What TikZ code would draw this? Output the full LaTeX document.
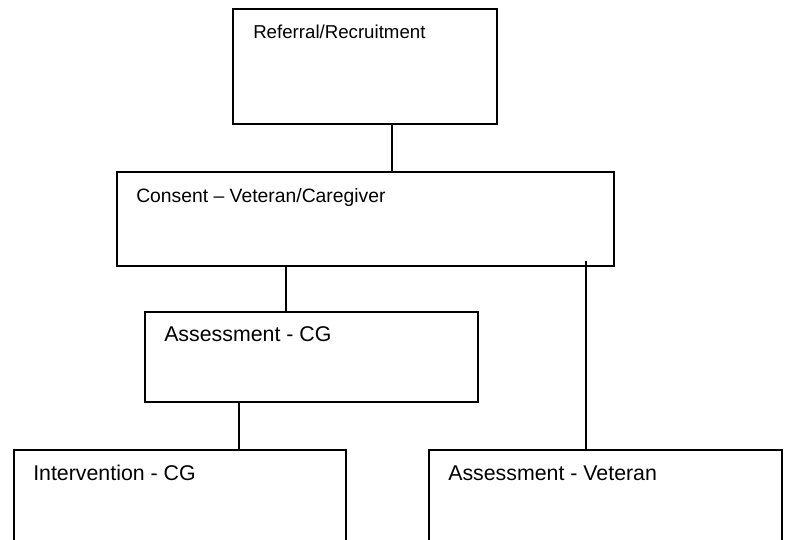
\documentclass[tikz,border=0pt]{standalone}
\usepackage{fontspec}
\setmainfont{Liberation Sans}
\begin{document}
\begin{tikzpicture}[x=0.75pt,y=-0.75pt,
  box/.style={draw,line width=1.4pt,rectangle,anchor=north west,inner sep=0pt},
  lbl/.style={anchor=base west,inner sep=0pt,font=\fontsize{14.5}{17}\selectfont},
  biglbl/.style={lbl,font=\fontsize{16}{19}\selectfont},
  link/.style={line width=1.4pt}]
\useasboundingbox (0,0) rectangle (809,539);
\clip (0,0) rectangle (809,539);
% boxes
\node[box,minimum width=198pt,minimum height=86.25pt] (ref) at (232,8) {};
\node[box,minimum width=372.75pt,minimum height=70.5pt] (con) at (116,171) {};
\node[box,minimum width=249.75pt,minimum height=67.5pt] (acg) at (144,311) {};
\node[box,minimum width=249pt,minimum height=113.25pt] (icg) at (13,449) {};
\node[box,minimum width=264.75pt,minimum height=113.25pt] (avet) at (428,449) {};
% labels
\node[lbl,font=\fontsize{14}{17}\selectfont] (tref) at ([shift={(21,30)}]ref.north west) {Referral/Recruitment};
\node[lbl] (tcon) at ([shift={(20,31)}]con.north west) {Consent – Veteran/Caregiver};
\node[biglbl] (tacg) at ([shift={(20,30)}]acg.north west) {Assessment - CG};
\node[biglbl] (ticg) at ([shift={(20,31)}]icg.north west) {Intervention - CG};
\node[biglbl] (tavet) at ([shift={(20,31)}]avet.north west) {Assessment - Veteran};
% connectors
\coordinate (x1) at (392,0);
\coordinate (x2) at (286,0);
\coordinate (x3) at (239,0);
\coordinate (v0) at (586,261);
\draw[link] (ref.south -| x1) -- (con.north -| x1);
\draw[link] (con.south -| x2) -- (acg.north -| x2);
\draw[link] (acg.south -| x3) -- (icg.north -| x3);
\draw[link] (v0) -- (avet.north -| v0);
\end{tikzpicture}
\end{document}
